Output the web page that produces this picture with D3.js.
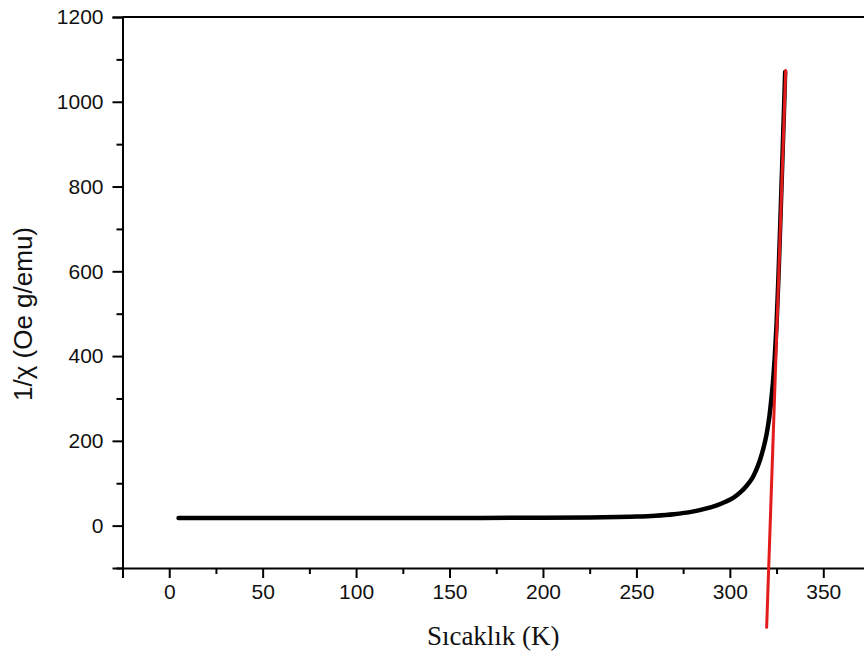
<!DOCTYPE html>
<html>
<head>
<meta charset="utf-8">
<script src="https://cdn.jsdelivr.net/npm/d3@7"></script>
<style>
  body { margin: 0; background: #fff; }
  svg { display: block; }
</style>
</head>
<body>
<div class="graph_container"></div>
<script>
// measured curve: temperature (K) and 1/chi (Oe g/emu)
const temps = [5, 50, 100, 150, 200, 225, 240, 250, 260, 270, 280, 287, 293, 298, 302, 306, 309, 312, 314, 316, 318, 319.6, 321, 322, 323, 324, 325, 326, 327.6, 329, 329.6];
const invChi = [18, 18, 18, 18, 18.5, 19.2, 20.3, 21.5, 23.5, 27, 33, 40, 48, 57, 66, 80, 94, 112, 130, 153, 183, 214, 252, 290, 335, 395, 475, 585, 795, 985, 1070];

// linear Curie-Weiss fit (red)
const fitTemps = [319.7, 329.9];
const fitInvChi = [-240, 1074];

const xMajor = [0, 50, 100, 150, 200, 250, 300, 350];
const xMinor = [-25, 25, 75, 125, 175, 225, 275, 325];
const yMajor = [0, 200, 400, 600, 800, 1000, 1200];
const yMinor = [-100, 100, 300, 500, 700, 900, 1100];

const W = 864, H = 659;
const plot = { left: 122.5, right: 870, top: 17, bottom: 568 };

const svg = d3.select('.graph_container').append('svg')
  .attr('width', W)
  .attr('height', H);

const x = d3.scaleLinear().domain([-25, 375]).range([plot.left, plot.right]);
const y = d3.scaleLinear().domain([-100, 1200]).range([plot.bottom, plot.top]);

const axisFont = '"Liberation Sans", Arial, sans-serif';

// x axis major + minor
svg.append('g')
  .attr('transform', 'translate(0,' + plot.bottom + ')')
  .call(d3.axisBottom(x).tickValues(xMajor).tickSize(10).tickPadding(6).tickFormat(d3.format('d')));
svg.append('g')
  .attr('transform', 'translate(0,' + plot.bottom + ')')
  .call(d3.axisBottom(x).tickValues(xMinor).tickSize(6).tickFormat(''))
  .select('.domain').remove();

// y axis major + minor
svg.append('g')
  .attr('transform', 'translate(' + plot.left + ',0)')
  .call(d3.axisLeft(y).tickValues(yMajor).tickSize(10).tickPadding(9).tickFormat(d3.format('d')));
svg.append('g')
  .attr('transform', 'translate(' + plot.left + ',0)')
  .call(d3.axisLeft(y).tickValues(yMinor).tickSize(6).tickFormat(''))
  .select('.domain').remove();

svg.selectAll('.domain').attr('stroke', '#000').attr('stroke-width', 2);
svg.selectAll('.tick line').attr('stroke', '#000').attr('stroke-width', 2);
svg.selectAll('.tick text')
  .attr('fill', '#111')
  .style('font-family', axisFont)
  .style('font-size', '21px');

// top frame line
svg.append('line')
  .attr('x1', plot.left).attr('x2', plot.right)
  .attr('y1', y(1200)).attr('y2', y(1200))
  .attr('stroke', '#000').attr('stroke-width', 2);

// data curve
const curve = temps.map(function (t, i) { return [t, invChi[i]]; });
svg.append('path')
  .datum(curve)
  .attr('fill', 'none')
  .attr('stroke', '#000')
  .attr('stroke-width', 4.5)
  .attr('stroke-linecap', 'round')
  .attr('stroke-linejoin', 'round')
  .attr('d', d3.line()
    .x(function (d) { return x(d[0]); })
    .y(function (d) { return y(d[1]); })
    .curve(d3.curveCatmullRom.alpha(0.5)));

// fit line
const fit = fitTemps.map(function (t, i) { return [t, fitInvChi[i]]; });
svg.append('path')
  .datum(fit)
  .attr('fill', 'none')
  .attr('stroke', '#e31b1b')
  .attr('stroke-width', 3)
  .attr('stroke-linecap', 'round')
  .attr('d', d3.line()
    .x(function (d) { return x(d[0]); })
    .y(function (d) { return y(d[1]); }));

// axis titles
svg.append('text')
  .attr('x', (plot.left + W) / 2)
  .attr('y', 645)
  .attr('text-anchor', 'middle')
  .style('font-family', '"Liberation Serif", "Times New Roman", serif')
  .style('font-size', '27px')
  .attr('fill', '#111')
  .text('Sıcaklık (K)');

svg.append('text')
  .attr('transform', 'translate(32,314) rotate(-90)')
  .attr('text-anchor', 'middle')
  .style('font-family', axisFont)
  .style('font-size', '26px')
  .attr('fill', '#111')
  .text('1/χ (Oe g/emu)');
</script>
</body>
</html>
